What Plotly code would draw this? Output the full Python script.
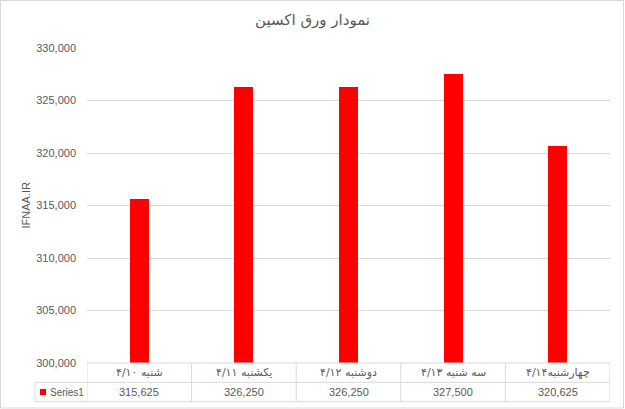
import plotly.graph_objects as go

categories = ["شنبه ۴/۱۰", "یکشنبه ۴/۱۱", "دوشنبه ۴/۱۲", "سه شنبه ۴/۱۳", "چهارشنبه۴/۱۴"]
values = [315625, 326250, 326250, 327500, 320625]
series_name = "Series1"
title_text = "نمودار ورق اکسین"
y_title = "IFNAA.IR"
y_ticks = [300000, 305000, 310000, 315000, 320000, 325000, 330000]

W, H = 625, 409
L, R, T, B = 87, 15, 48, 46
pw, ph = W - L - R, H - T - B

def px_x(p):
    return (p - L) / pw

def px_y(p):
    return (H - B - p) / ph

grid = "#d9d9d9"
txt = "#595959"
font_lat = "Liberation Sans, Arial, sans-serif"
font_fa = "DejaVu Sans, Tahoma, sans-serif"

n = len(categories)
xs = list(range(n))

fig = go.Figure()
fig.add_trace(go.Bar(x=xs, y=values, width=0.18, marker_color="#ff0000",
                     marker_line_width=0, name=series_name, showlegend=False, hoverinfo="skip"))

shapes = []
row_mid = px_y(382.3)
row_bot = px_y(401.7)
leg_left = px_x(35)
shapes.append(dict(type="line", xref="paper", yref="paper", x0=0, x1=1, y0=0, y1=0,
                   line=dict(color=grid, width=1)))
shapes.append(dict(type="line", xref="paper", yref="paper", x0=leg_left, x1=1, y0=row_mid, y1=row_mid,
                   line=dict(color=grid, width=1)))
shapes.append(dict(type="line", xref="paper", yref="paper", x0=leg_left, x1=1, y0=row_bot, y1=row_bot,
                   line=dict(color=grid, width=1)))
shapes.append(dict(type="line", xref="paper", yref="paper", x0=leg_left, x1=leg_left, y0=row_mid, y1=row_bot,
                   line=dict(color=grid, width=1)))
for i in range(n + 1):
    shapes.append(dict(type="line", xref="x", yref="paper", x0=i - 0.5, x1=i - 0.5, y0=0, y1=row_bot,
                       line=dict(color=grid, width=1)))
shapes.append(dict(type="rect", xref="paper", yref="paper", x0=px_x(40), x1=px_x(46),
                   y0=px_y(395), y1=px_y(389), fillcolor="#ff0000", line=dict(width=0)))
shapes.append(dict(type="rect", xref="paper", yref="paper", x0=px_x(0.5), x1=px_x(623.5), y0=px_y(408), y1=px_y(0.5),
                   line=dict(color=grid, width=1), fillcolor="rgba(0,0,0,0)"))

annotations = []
for i, (c, v) in enumerate(zip(categories, values)):
    annotations.append(dict(x=i, y=px_y(372.5), xref="x", yref="paper", text=c, showarrow=False,
                            font=dict(family=font_fa, size=11, color=txt), xanchor="center", yanchor="middle"))
    annotations.append(dict(x=i, y=px_y(392), xref="x", yref="paper", text=f"{v:,}", showarrow=False,
                            font=dict(family=font_lat, size=11, color=txt), xanchor="center", yanchor="middle"))
annotations.append(dict(x=px_x(48), y=px_y(392), xref="paper", yref="paper", text=series_name, showarrow=False,
                        font=dict(family=font_lat, size=10, color=txt), xanchor="left", yanchor="middle"))
annotations.append(dict(x=px_x(25), y=0.5, xref="paper", yref="paper", text=y_title, showarrow=False,
                        textangle=-90, font=dict(family=font_lat, size=11, color=txt),
                        xanchor="center", yanchor="middle"))

fig.update_layout(
    width=W, height=H,
    margin=dict(l=L, r=R, t=T, b=B),
    paper_bgcolor="white", plot_bgcolor="white",
    title=dict(text=title_text, x=0.5, xanchor="center", y=1 - 20 / H, yanchor="middle",
               font=dict(family=font_fa, size=15, color=txt)),
    xaxis=dict(range=[-0.5, n - 0.5], showticklabels=False, showgrid=False, zeroline=False,
               showline=False, ticks="", fixedrange=True),
    yaxis=dict(range=[300000, 330000], tickvals=y_ticks, tickformat=",", showgrid=True,
               gridcolor=grid, gridwidth=1, zeroline=False, showline=False, ticks="",
               ticklabelstandoff=10, tickfont=dict(family=font_lat, size=11, color=txt), fixedrange=True),
    shapes=shapes, annotations=annotations, bargap=0, hovermode=False,
)

fig.write_html("out.html", config={"displayModeBar": False},
               post_script="document.body.style.margin='0px';document.body.style.overflow='hidden';")
